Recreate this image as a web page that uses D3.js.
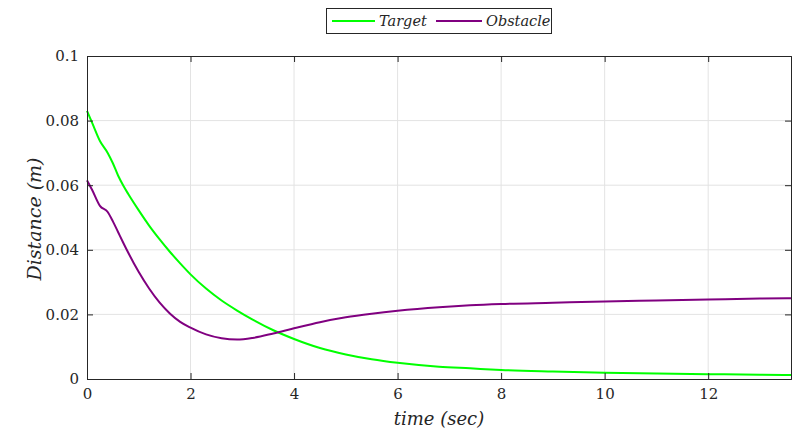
<!DOCTYPE html>
<html>
<head>
<meta charset="utf-8">
<script src="https://cdn.jsdelivr.net/npm/d3@7"></script>
<style>
  body { margin: 0; background: #fff; }
  svg { display: block; }
  text { fill: #262626; }
</style>
</head>
<body>
<svg width="794" height="432"></svg>
<script>
// time samples (sec)
const time = [0, 0.1, 0.25, 0.4, 0.5, 0.6, 0.7, 0.8, 1.0, 1.2, 1.4, 1.6, 1.8, 2.0, 2.3, 2.6, 2.9, 3.2, 3.6, 4.0, 4.5, 5.0, 5.5, 6.0, 6.8, 7.4, 8.0, 9.0, 10, 11, 12, 13, 13.6]
const target = [0.0830, 0.0793, 0.0737, 0.0700, 0.0668, 0.0630, 0.0599, 0.0572, 0.0522, 0.0475, 0.0433, 0.0394, 0.0358, 0.0324, 0.0280, 0.0243, 0.0212, 0.0184, 0.0151, 0.0124, 0.0096, 0.0076, 0.0061, 0.0050, 0.0038, 0.0033, 0.0028, 0.0023, 0.0019, 0.0017, 0.0015, 0.0013, 0.0012]
const obstacle = [0.0615, 0.0585, 0.0536, 0.0517, 0.0488, 0.0455, 0.0422, 0.0390, 0.0331, 0.0280, 0.0237, 0.0203, 0.0177, 0.0159, 0.0138, 0.0126, 0.0122, 0.0127, 0.0141, 0.0157, 0.0176, 0.0191, 0.0202, 0.0211, 0.0222, 0.0228, 0.0232, 0.0236, 0.0240, 0.0243, 0.0246, 0.0249, 0.0250]

const xTicks = [0, 2, 4, 6, 8, 10, 12]
const yTicks = [0, 0.02, 0.04, 0.06, 0.08, 0.1]
const yTickLabels = ['0', '0.02', '0.04', '0.06', '0.08', '0.1']

const series = [
  {name: 'Target', values: target, color: '#00ff00'},
  {name: 'Obstacle', values: obstacle, color: '#800080'}
]

const plotLeft = 87, plotRight = 791, plotTop = 56, plotBottom = 379
const fontStack = 'DejaVu Serif'

const svg = d3.select('svg')

const x = d3.scaleLinear().domain([0, 13.6]).range([plotLeft, plotRight])
const y = d3.scaleLinear().domain([0, 0.1]).range([plotBottom, plotTop])

// grid
const grid = svg.append('g').attr('stroke', '#e3e3e3').attr('stroke-width', 1)
grid.selectAll('.gx').data(xTicks.filter(d => d > 0)).enter().append('line')
  .attr('x1', d => x(d)).attr('x2', d => x(d))
  .attr('y1', plotTop).attr('y2', plotBottom)
grid.selectAll('.gy').data(yTicks.filter(d => d > 0 && d < 0.1)).enter().append('line')
  .attr('x1', plotLeft).attr('x2', plotRight)
  .attr('y1', d => y(d)).attr('y2', d => y(d))

// lines
const line = d3.line()
  .x((d, i) => x(time[i]))
  .y(d => y(d))
  .curve(d3.curveMonotoneX)

svg.append('g').selectAll('path').data(series).enter().append('path')
  .attr('d', d => line(d.values))
  .attr('fill', 'none')
  .attr('stroke', d => d.color)
  .attr('stroke-width', 2)

// axes (ticks inward, box)
const axisColor = '#262626'
const xAxis = svg.append('g').attr('transform', `translate(0,${plotBottom})`)
  .call(d3.axisBottom(x).tickValues(xTicks).tickSize(-6).tickPadding(9).tickFormat(d3.format('d')))
const xTop = svg.append('g').attr('transform', `translate(0,${plotTop})`)
  .call(d3.axisTop(x).tickValues(xTicks).tickSize(-6).tickFormat(''))
const yAxis = svg.append('g').attr('transform', `translate(${plotLeft},0)`)
  .call(d3.axisLeft(y).tickValues(yTicks).tickSize(-6).tickPadding(8).tickFormat((d, i) => yTickLabels[i]))
const yRight = svg.append('g').attr('transform', `translate(${plotRight},0)`)
  .call(d3.axisRight(y).tickValues(yTicks).tickSize(-6).tickFormat(''))

;[xAxis, xTop, yAxis, yRight].forEach(g => {
  g.select('.domain').attr('stroke', axisColor).attr('stroke-width', 1)
  g.selectAll('.tick line').attr('stroke', axisColor)
  g.selectAll('.tick text').attr('font-family', fontStack)
    .attr('font-size', 15).attr('fill', axisColor)
})
xAxis.selectAll('.tick text').attr('dy', '0.71em')

// axis labels
svg.append('text')
  .attr('x', 439).attr('y', 425)
  .attr('text-anchor', 'middle')
  .attr('font-family', fontStack)
  .attr('font-size', 18).attr('font-style', 'italic')
  .text('time (sec)')

svg.append('text')
  .attr('transform', 'translate(41,219) rotate(-90)')
  .attr('text-anchor', 'middle')
  .attr('font-family', fontStack)
  .attr('font-size', 19).attr('font-style', 'italic')
  .text('Distance (m)')

// legend
const legend = svg.append('g')
legend.append('rect')
  .attr('x', 326.5).attr('y', 8.5).attr('width', 225).attr('height', 25)
  .attr('fill', '#fff').attr('stroke', axisColor).attr('stroke-width', 1)

const legendItems = [
  {x0: 332, x1: 375, tx: 379},
  {x0: 436, x1: 482, tx: 486}
]
legend.selectAll('.li').data(series).enter().append('line')
  .attr('x1', (d, i) => legendItems[i].x0).attr('x2', (d, i) => legendItems[i].x1)
  .attr('y1', 21).attr('y2', 21)
  .attr('stroke', d => d.color).attr('stroke-width', 2)
legend.selectAll('.lt').data(series).enter().append('text')
  .attr('x', (d, i) => legendItems[i].tx).attr('y', 26)
  .attr('font-family', fontStack)
  .attr('font-size', 14.5).attr('font-style', 'italic')
  .text(d => d.name)
</script>
</body>
</html>
